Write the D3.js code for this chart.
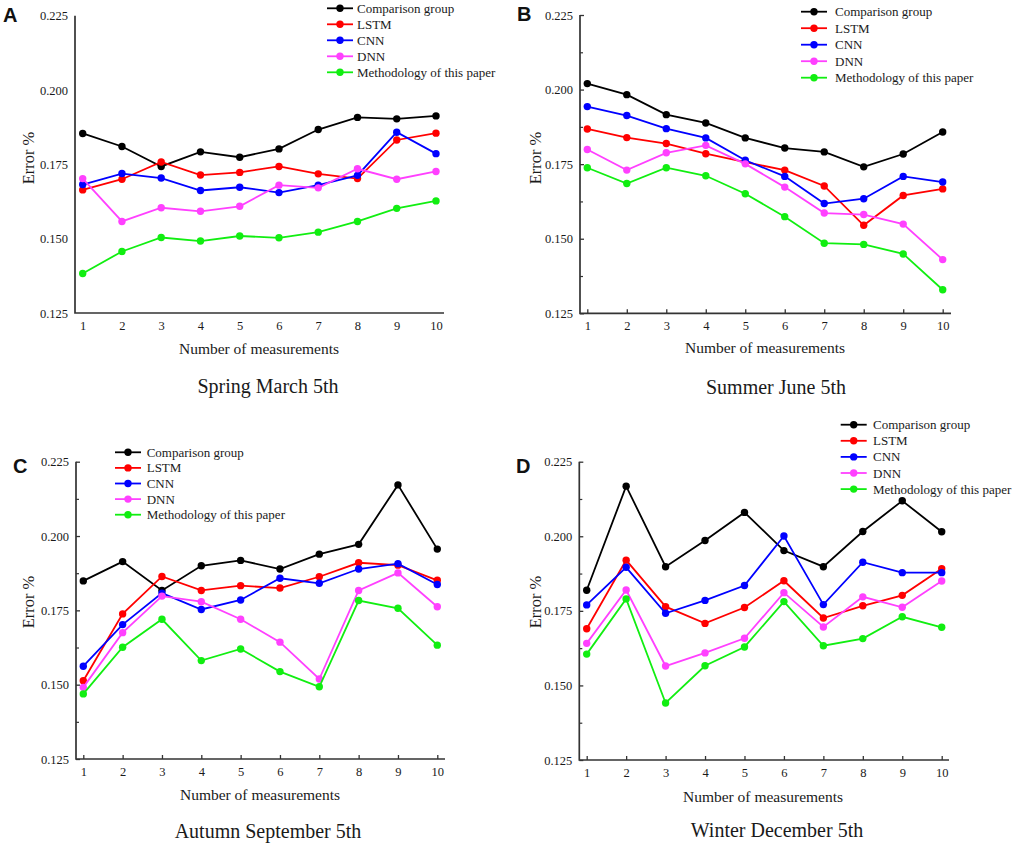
<!DOCTYPE html>
<html>
<head>
<meta charset="utf-8">
<script src="https://cdn.jsdelivr.net/npm/d3@7"></script>
<style>
  html, body { margin: 0; padding: 0; background: #fff; }
  svg { display: block; }
</style>
</head>
<body>
<svg id="chart" width="1017" height="856"></svg>
<script>
// ---------------- DATA ----------------
const measurements = [1, 2, 3, 4, 5, 6, 7, 8, 9, 10];
const seriesNames = ["Comparison group", "LSTM", "CNN", "DNN", "Methodology of this paper"];
const yTickValues = [0.125, 0.150, 0.175, 0.200, 0.225];
const yMinorTickValues = [0.1375, 0.1625, 0.1875, 0.2125];
const yTickLabels = ["0.125", "0.150", "0.175", "0.200", "0.225"];
const panelLetters = ["A", "B", "C", "D"];
const panelTitles = ["Spring March 5th", "Summer June 5th", "Autumn September 5th", "Winter December 5th"];
const xAxisTitle = "Number of measurements";
const yAxisTitle = "Error %";

// A - Spring
const springComparison = [0.1854, 0.1810, 0.1743, 0.1792, 0.1774, 0.1802, 0.1867, 0.1908, 0.1903, 0.1913];
const springLSTM       = [0.1664, 0.1700, 0.1758, 0.1714, 0.1723, 0.1743, 0.1718, 0.1702, 0.1832, 0.1855];
const springCNN        = [0.1682, 0.1719, 0.1704, 0.1662, 0.1673, 0.1655, 0.1680, 0.1713, 0.1858, 0.1786];
const springDNN        = [0.1702, 0.1558, 0.1604, 0.1592, 0.1609, 0.1680, 0.1671, 0.1735, 0.1700, 0.1726];
const springOurs       = [0.1383, 0.1457, 0.1504, 0.1492, 0.1509, 0.1503, 0.1522, 0.1558, 0.1602, 0.1627];

// B - Summer
const summerComparison = [0.2020, 0.1983, 0.1916, 0.1888, 0.1838, 0.1804, 0.1791, 0.1741, 0.1784, 0.1858];
const summerLSTM       = [0.1868, 0.1839, 0.1819, 0.1785, 0.1757, 0.1730, 0.1677, 0.1545, 0.1645, 0.1667];
const summerCNN        = [0.1943, 0.1913, 0.1869, 0.1838, 0.1763, 0.1709, 0.1618, 0.1634, 0.1709, 0.1690];
const summerDNN        = [0.1799, 0.1730, 0.1788, 0.1813, 0.1751, 0.1673, 0.1586, 0.1581, 0.1549, 0.1430];
const summerOurs       = [0.1738, 0.1685, 0.1738, 0.1711, 0.1651, 0.1574, 0.1485, 0.1481, 0.1449, 0.1329];

// C - Autumn
const autumnComparison = [0.1849, 0.1914, 0.1817, 0.1900, 0.1918, 0.1889, 0.1939, 0.1972, 0.2172, 0.1956];
const autumnLSTM       = [0.1513, 0.1738, 0.1864, 0.1817, 0.1833, 0.1825, 0.1863, 0.1910, 0.1902, 0.1851];
const autumnCNN        = [0.1562, 0.1702, 0.1808, 0.1753, 0.1785, 0.1858, 0.1841, 0.1889, 0.1907, 0.1837];
const autumnDNN        = [0.1491, 0.1675, 0.1798, 0.1779, 0.1720, 0.1643, 0.1519, 0.1817, 0.1876, 0.1762];
const autumnOurs       = [0.1469, 0.1626, 0.1720, 0.1581, 0.1620, 0.1544, 0.1493, 0.1783, 0.1757, 0.1633];

// D - Winter
const winterComparison = [0.1819, 0.2168, 0.1898, 0.1986, 0.2080, 0.1952, 0.1898, 0.2016, 0.2119, 0.2015];
const winterLSTM       = [0.1690, 0.1920, 0.1764, 0.1708, 0.1761, 0.1851, 0.1726, 0.1767, 0.1802, 0.1891];
const winterCNN        = [0.1770, 0.1896, 0.1742, 0.1785, 0.1835, 0.2001, 0.1771, 0.1913, 0.1878, 0.1878];
const winterDNN        = [0.1641, 0.1820, 0.1565, 0.1609, 0.1658, 0.1811, 0.1696, 0.1797, 0.1762, 0.1850];
const winterOurs       = [0.1605, 0.1790, 0.1441, 0.1566, 0.1629, 0.1781, 0.1633, 0.1657, 0.1730, 0.1695];

// ---------------- STYLE / LAYOUT ----------------
const seriesColors = ["#000000", "#ff0000", "#0000ff", "#ff40ff", "#11ee11"];
const serif = "'Liberation Serif', 'Times New Roman', serif";

const panelSeries = [
  [springComparison, springLSTM, springCNN, springDNN, springOurs],
  [summerComparison, summerLSTM, summerCNN, summerDNN, summerOurs],
  [autumnComparison, autumnLSTM, autumnCNN, autumnDNN, autumnOurs],
  [winterComparison, winterLSTM, winterCNN, winterDNN, winterOurs]
];

const layouts = [
  { axisX: 75,  xFirst: 82.7, xLast: 436,   axisEnd: 444, yTop: 15.7,  yBot: 313,
    ticks: false, ylabX: 28, ylabY: 158, xlabX: 259, xlabY: 349, titleX: 268, titleY: 393,
    letX: 3, letY: 22, legLine: 327, legText: 357, legY: 8.3, legStep: 16 },
  { axisX: 580, xFirst: 587.3, xLast: 942.7, axisEnd: 951, yTop: 15,  yBot: 313.3,
    ticks: true, ylabX: 535, ylabY: 158, xlabX: 765, xlabY: 348, titleX: 776, titleY: 394,
    letX: 517, letY: 21, legLine: 801, legText: 835, legY: 11.7, legStep: 16.5 },
  { axisX: 76,  xFirst: 83.3, xLast: 437.3, axisEnd: 445, yTop: 461.7, yBot: 759,
    ticks: true, ylabX: 28, ylabY: 602, xlabX: 260, xlabY: 795, titleX: 268, titleY: 838,
    letX: 13, letY: 473, legLine: 115, legText: 146.7, legY: 452.3, legStep: 15.6 },
  { axisX: 579.3, xFirst: 586.7, xLast: 941.7, axisEnd: 949, yTop: 461.7, yBot: 760,
    ticks: true, ylabX: 535, ylabY: 602, xlabX: 763, xlabY: 797, titleX: 777, titleY: 837,
    letX: 516, letY: 473, legLine: 840.7, legText: 873, legY: 424.7, legStep: 16.1 }
];

const svg = d3.select("#chart");

layouts.forEach((L, pi) => {
  const g = svg.append("g");
  const x = d3.scaleLinear().domain([measurements[0], measurements[measurements.length - 1]]).range([L.xFirst, L.xLast]);
  const y = d3.scaleLinear().domain([yTickValues[0], yTickValues[yTickValues.length - 1]]).range([L.yBot, L.yTop]);

  // Y axis ticks + labels
  const yAxis = d3.axisLeft(y).tickValues(yTickValues)
    .tickFormat((d, i) => yTickLabels[i])
    .tickSizeInner(L.ticks ? -4 : 0).tickSizeOuter(0).tickPadding(7);
  const gy = g.append("g").attr("transform", `translate(${L.axisX},0)`).call(yAxis);
  gy.attr("font-family", serif).attr("font-size", 12.5);
  gy.select(".domain").remove();
  gy.selectAll("line").attr("stroke", "#333").attr("stroke-width", 1.3);
  gy.selectAll("text").attr("font-family", serif).attr("font-size", 12.5).attr("fill", "#1a1a1a");

  if (L.ticks) {
    const yMinor = d3.axisLeft(y).tickValues(yMinorTickValues).tickFormat("")
      .tickSizeInner(-3).tickSizeOuter(0);
    const gym = g.append("g").attr("transform", `translate(${L.axisX},0)`).call(yMinor);
    gym.select(".domain").remove();
    gym.selectAll("line").attr("stroke", "#333").attr("stroke-width", 1.2);
  }

  // X axis ticks + labels
  const xAxis = d3.axisBottom(x).tickValues(measurements).tickFormat(d3.format("d"))
    .tickSizeInner(L.ticks ? -4 : 0).tickSizeOuter(0).tickPadding(8);
  const gx = g.append("g").attr("transform", `translate(0,${L.yBot})`).call(xAxis);
  gx.attr("font-family", serif).attr("font-size", 12.5);
  gx.select(".domain").remove();
  gx.selectAll("line").attr("stroke", "#333").attr("stroke-width", 1.3);
  gx.selectAll("text").attr("font-family", serif).attr("font-size", 12.5).attr("fill", "#1a1a1a");

  // Axis lines
  g.append("path")
    .attr("d", `M${L.axisX},${y(yTickValues[yTickValues.length - 1])}V${L.yBot}H${L.axisEnd}`)
    .attr("fill", "none").attr("stroke", "#333").attr("stroke-width", 1.7);

  // Series
  const line = d3.line().x((d, i) => x(measurements[i])).y(d => y(d));
  panelSeries[pi].forEach((vals, si) => {
    g.append("path").datum(vals).attr("d", line)
      .attr("fill", "none").attr("stroke", seriesColors[si]).attr("stroke-width", 1.8);
    g.selectAll(null).data(vals).enter().append("circle")
      .attr("cx", (d, i) => x(measurements[i])).attr("cy", d => y(d))
      .attr("r", 3.7).attr("fill", seriesColors[si]);
  });

  // Axis titles
  g.append("text").attr("transform", `translate(${L.ylabX},${L.ylabY}) rotate(-90)`)
    .attr("text-anchor", "middle").attr("dominant-baseline", "central")
    .attr("font-family", serif).attr("font-size", 16.5).attr("fill", "#1a1a1a").text(yAxisTitle);
  g.append("text").attr("x", L.xlabX).attr("y", L.xlabY + 5)
    .attr("text-anchor", "middle").attr("font-family", serif).attr("font-size", 15.5)
    .attr("fill", "#1a1a1a").text(xAxisTitle);
  g.append("text").attr("x", L.titleX).attr("y", L.titleY)
    .attr("text-anchor", "middle").attr("font-family", serif).attr("font-size", 20)
    .attr("fill", "#1a1a1a").text(panelTitles[pi]);

  // Panel letter
  g.append("text").attr("x", L.letX).attr("y", L.letY)
    .attr("font-family", "'Liberation Sans', Arial, sans-serif").attr("font-weight", "bold")
    .attr("font-size", 20).attr("fill", "#111").text(panelLetters[pi]);

  // Legend
  const lg = g.append("g");
  seriesNames.forEach((name, si) => {
    const ly = L.legY + si * L.legStep;
    lg.append("line").attr("x1", L.legLine).attr("x2", L.legLine + 26)
      .attr("y1", ly).attr("y2", ly).attr("stroke", seriesColors[si]).attr("stroke-width", 1.8);
    lg.append("circle").attr("cx", L.legLine + 13).attr("cy", ly).attr("r", 3.7).attr("fill", seriesColors[si]);
    lg.append("text").attr("x", L.legText).attr("y", ly).attr("dominant-baseline", "central")
      .attr("font-family", serif).attr("font-size", 13).attr("fill", "#1a1a1a").text(name);
  });
});
</script>
</body>
</html>
